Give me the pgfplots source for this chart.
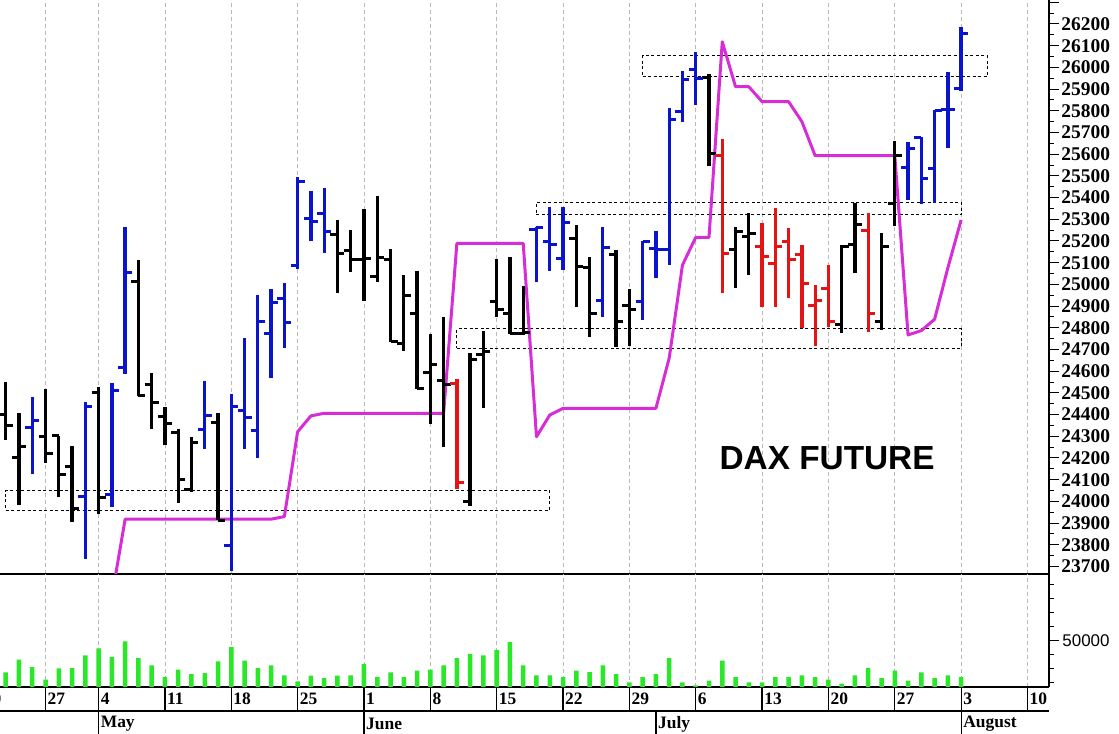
\documentclass[border=0pt]{standalone}
\usepackage{fontspec}
\setmainfont{Liberation Serif}
\newfontfamily\arialfont{Liberation Sans}
\usepackage{pgfplots}
\usepackage{pgfplotstable}
\pgfplotsset{compat=1.18}

\definecolor{barblue}{RGB}{10,20,205}
\definecolor{barred}{RGB}{228,20,20}
\definecolor{magline}{RGB}{214,45,214}
\definecolor{volgreen}{RGB}{40,232,40}

\pgfdeclareplotmark{otick}{\pgfpathmoveto{\pgfpoint{-7bp}{0pt}}\pgfpathlineto{\pgfpoint{0pt}{0pt}}\pgfusepathqstroke}
\pgfdeclareplotmark{ctick}{\pgfpathmoveto{\pgfpoint{0pt}{0pt}}\pgfpathlineto{\pgfpoint{7bp}{0pt}}\pgfusepathqstroke}

% OHLC bars, t = trading day index (0 = 4 May)
\pgfplotstableread{
t o h l c
-5 24340 24483 24126 24375
-1 24022 24460 23733 24437
1 24034 24544 23976 24513
2 24616 25263 24587 25056
8 24332 24556 24240 24398
10 23796 24494 23679 24437
11 24421 24752 24240 24386
12 24326 24951 24202 24831
13 24775 24977 24567 24916
14 24936 25008 24706 24824
15 25085 25496 25071 25473
16 25305 25430 25200 25292
17 25328 25446 25143 25246
33 25255 25266 25013 25260
34 25197 25358 25063 25185
35 25119 25358 25068 25284
38 24924 25266 24851 25169
41 24920 25201 24836 25197
42 25166 25248 25028 25162
43 25162 25812 25089 25758
44 25796 25985 25750 25945
45 25991 26070 25827 25947
61 25540 25658 25389 25627
62 25678 25681 25369 25486
63 25535 25804 25377 25800
64 25807 25980 25627 25807
65 25904 26185 25893 26154
}\blueT

\pgfplotstableread{
t o h l c
-8 24300 24450 24150 24206
-7 24401 24552 24283 24352
-6 24202 24409 23984 24252
-4 24298 24519 24176 24222
-3 24303 24303 24022 24126
-2 24160 24257 23907 23968
0 24503 24529 23942 24019
3 25013 25113 24487 24490
4 24537 24593 24332 24455
5 24390 24434 24259 24360
6 24318 24334 23991 24102
7 24053 24298 24045 24272
9 24365 24406 23914 23914
18 25228 25297 24959 25143
19 25155 25251 25059 25113
20 25113 25346 24925 25120
21 25036 25407 25010 25125
22 25117 25162 24733 24736
23 24729 25043 24695 24951
24 24867 25063 24517 24521
25 24595 24772 24357 24633
26 24556 24851 24252 24537
28 23999 24683 23979 24652
29 24679 24785 24429 24690
30 24920 25116 24848 24885
31 24864 25128 24772 24772
32 24775 24993 24767 24780
36 25212 25274 24895 25082
37 25079 25128 24756 24867
39 25136 25159 24713 24831
40 24901 24977 24716 24882
46 25954 25968 25546 25604
48 25162 25266 24985 25243
49 25220 25328 25043 25235
56 24813 25182 24775 25174
57 25186 25377 25051 25278
59 24831 25235 24790 25174
60 25374 25662 25269 25592
}\blackT

\pgfplotstableread{
t o h l c
27 24541 24564 24056 24086
47 25596 25669 24959 25143
50 25174 25282 24895 25128
51 25097 25351 24895 25174
52 25197 25259 24939 25113
53 25136 25182 24798 25002
54 24905 24997 24716 24928
55 24982 25089 24805 24828
58 25248 25328 24782 24867
}\redT

\pgfplotstableread{
t v
1 23560
2 23918
13 23918
14 23930
15 24321
16 24394
17 24406
26 24406
27 25189
32 25189
33 24298
34 24398
35 24429
42 24429
43 24660
44 25089
45 25217
46 25217
47 26118
48 25911
49 25911
50 25842
52 25842
53 25750
54 25593
60 25593
61 24767
62 24787
63 24839
64 25076
65 25297
}\magT

\pgfplotstableread{
t v
-7 27381
-6 36429
-5 31190
-4 22143
-3 30238
-2 30476
-1 39524
0 44524
1 38333
2 49524
3 37619
4 32381
5 24048
6 29286
7 26190
8 26905
9 35238
10 45476
11 35714
12 30476
13 32381
14 25238
15 20952
16 25000
17 23333
18 25000
19 25238
20 33333
21 24048
22 27381
23 24048
24 28571
25 29286
26 32381
27 37619
28 40476
29 39524
30 43571
31 49048
32 32381
33 25238
34 25238
35 24048
36 28571
37 27619
38 32381
39 26190
40 20238
41 24048
42 26190
43 37619
44 20238
45 18095
46 21429
47 35714
48 24048
49 20238
50 20238
51 24048
52 24048
53 25238
54 24048
55 22143
56 19286
57 25238
58 30476
59 23333
60 28571
61 21429
62 27381
63 23333
64 25238
65 24048
}\volT

\newcommand{\ohlc}[2]{%
  \addplot[draw=none, forget plot,
    error bars/.cd, y dir=both, y explicit, error mark=none,
    error bar style={draw=#2, line width=3.3bp, solid}]
    table[x=t, y expr={(\thisrow{h}+\thisrow{l})/2}, y error expr={(\thisrow{h}-\thisrow{l})/2}] {#1};
  \addplot[only marks, mark=otick, draw=#2, line width=3bp, forget plot] table[x=t, y=o] {#1};
  \addplot[only marks, mark=ctick, draw=#2, line width=3bp, forget plot] table[x=t, y=c] {#1};
}

\pgfplotsset{
  common/.style={
    scale only axis, width=1049bp,
    xmin=-7.43, xmax=71.62,
    axis x line*=bottom, axis y line*=right,
    axis line style={-, black, line width=1.2bp},
    xtick={-9,-4,0,5,10,...,70}, xticklabels={},
    xticklabel style={opacity=0},
    xmajorgrids, major x tick style={draw=none},
    grid style={gray!55, line width=0.8bp, dash pattern=on 4bp off 3bp},
    tick align=outside, major tick length=10bp, minor tick length=5bp,
    every tick/.style={black, line width=1bp},
    scaled ticks=false,
    /pgf/number format/1000 sep={},
    /pgf/number format/assume math mode=true,
  }
}

\begin{document}
\begin{tikzpicture}
\useasboundingbox (0,0) rectangle (1119bp,734bp);

% price panel
\begin{axis}[common, at={(0bp,160bp)}, anchor=south west, height=574bp,
  ymin=23665.4, ymax=26310.6,
  ytick={23700,23800,...,26200},
  minor ytick={23650,23750,...,26250},
  extra y ticks={26300}, extra y tick labels={},
  yticklabel style={font=\fontsize{19.5}{19.5}\selectfont\bfseries, xshift=-1bp},
]
\addplot[black, line width=1bp, dash pattern=on 3bp off 2.5bp] coordinates {(-7,23960) (34,23960) (34,24050) (-7,24050) (-7,23960)};
\addplot[black, line width=1bp, dash pattern=on 3bp off 2.5bp] coordinates {(27,24706) (65,24706) (65,24795) (27,24795) (27,24706)};
\addplot[black, line width=1bp, dash pattern=on 3bp off 2.5bp] coordinates {(33,25320) (65,25320) (65,25377) (33,25377) (33,25320)};
\addplot[black, line width=1bp, dash pattern=on 3bp off 2.5bp] coordinates {(41,25960) (67,25960) (67,26053) (41,26053) (41,25960)};
\addplot[magline, line width=3bp, line join=round] table[x=t, y=v] {\magT};
\ohlc{\blackT}{black}
\ohlc{\blueT}{barblue}
\ohlc{\redT}{barred}
\node[font=\arialfont\bfseries\fontsize{33.5}{34}\selectfont] at (axis cs:54.9,24200) {DAX FUTURE};
\end{axis}

% volume panel
\begin{axis}[common, at={(0bp,47bp)}, anchor=south west, height=113bp,
  ymin=16905, ymax=97857,
  ytick={50000},
  minor ytick={20000,30000,40000,60000,70000,80000,90000},
  yticklabel style={font=\arialfont\fontsize{17}{17}\selectfont},
]
\addplot[ybar, bar width=4.5bp, fill=volgreen, draw=none] table[x=t, y=v] {\volT};
\end{axis}

% date and month rows
\begin{axis}[at={(0bp,0bp)}, anchor=south west, scale only axis, width=1049bp, height=47bp,
  xmin=-7.43, xmax=71.62, ymin=0, ymax=47, hide axis, clip=false]
\draw[black, line width=1.2bp] (axis cs:-7.43,23) -- (axis cs:71.62,23);
\draw[black, line width=1.2bp] (axis cs:-9,23) -- (axis cs:-9,47);
\draw[black, line width=1.2bp] (axis cs:-4,23) -- (axis cs:-4,47);
\draw[black, line width=1.2bp] (axis cs:0,0) -- (axis cs:0,47);
\draw[black, line width=1.2bp] (axis cs:5,23) -- (axis cs:5,47);
\draw[black, line width=1.2bp] (axis cs:10,23) -- (axis cs:10,47);
\draw[black, line width=1.2bp] (axis cs:15,23) -- (axis cs:15,47);
\draw[black, line width=1.2bp] (axis cs:20,0) -- (axis cs:20,47);
\draw[black, line width=1.2bp] (axis cs:25,23) -- (axis cs:25,47);
\draw[black, line width=1.2bp] (axis cs:30,23) -- (axis cs:30,47);
\draw[black, line width=1.2bp] (axis cs:35,23) -- (axis cs:35,47);
\draw[black, line width=1.2bp] (axis cs:40,23) -- (axis cs:40,47);
\draw[black, line width=1.2bp] (axis cs:42,0) -- (axis cs:42,23);
\draw[black, line width=1.2bp] (axis cs:45,23) -- (axis cs:45,47);
\draw[black, line width=1.2bp] (axis cs:50,23) -- (axis cs:50,47);
\draw[black, line width=1.2bp] (axis cs:55,23) -- (axis cs:55,47);
\draw[black, line width=1.2bp] (axis cs:60,23) -- (axis cs:60,47);
\draw[black, line width=1.2bp] (axis cs:65,0) -- (axis cs:65,47);
\draw[black, line width=1.2bp] (axis cs:70,23) -- (axis cs:70,47);
\begin{scope}[every node/.style={anchor=west, inner sep=2bp, font=\fontsize{17.5}{17.5}\selectfont\bfseries}]
\node at (axis cs:-8.8,35) {20};
\node at (axis cs:-4,35) {27};
\node at (axis cs:0,35) {4};
\node at (axis cs:5,35) {11};
\node at (axis cs:10,35) {18};
\node at (axis cs:15,35) {25};
\node at (axis cs:20,35) {1};
\node at (axis cs:25,35) {8};
\node at (axis cs:30,35) {15};
\node at (axis cs:35,35) {22};
\node at (axis cs:40,35) {29};
\node at (axis cs:45,35) {6};
\node at (axis cs:50,35) {13};
\node at (axis cs:55,35) {20};
\node at (axis cs:60,35) {27};
\node at (axis cs:65,35) {3};
\node at (axis cs:70,35) {10};
\node at (axis cs:0,10) {May};
\node at (axis cs:20,10) {June};
\node at (axis cs:42,10) {July};
\node at (axis cs:65,10) {August};
\end{scope}
\end{axis}
\end{tikzpicture}
\end{document}
